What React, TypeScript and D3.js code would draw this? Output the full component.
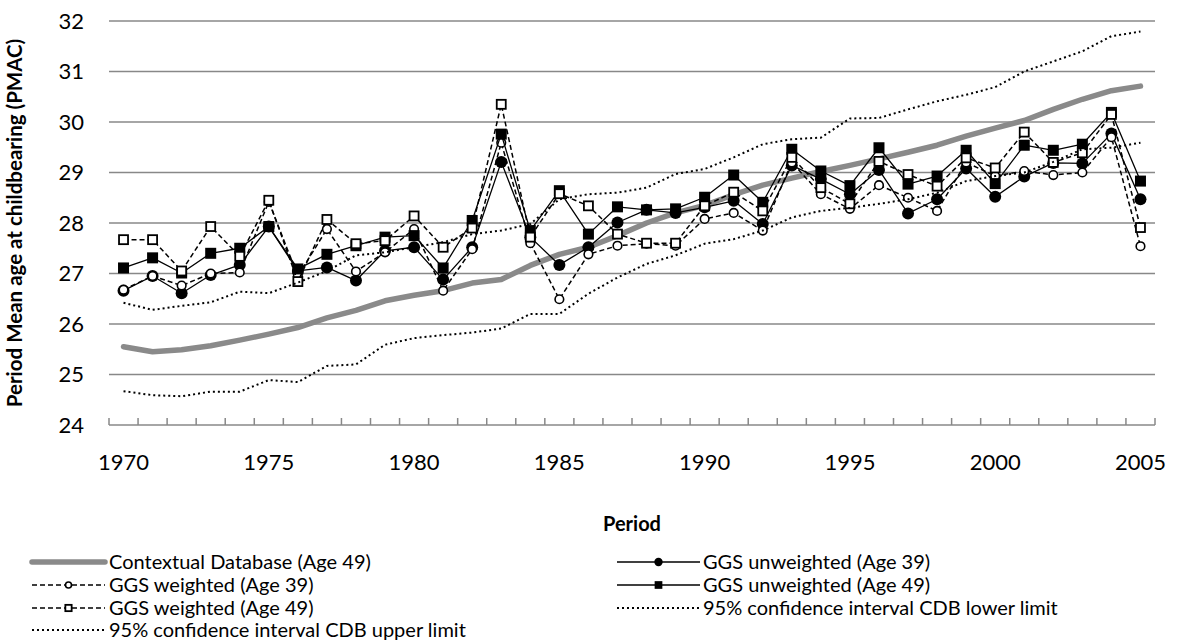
import React from 'react';
import * as d3 from 'd3';

const years = [1970,1971,1972,1973,1974,1975,1976,1977,1978,1979,1980,1981,1982,1983,1984,1985,1986,1987,1988,1989,1990,1991,1992,1993,1994,1995,1996,1997,1998,1999,2000,2001,2002,2003,2004,2005];

const cdb = [25.55,25.45,25.49,25.57,25.68,25.8,25.93,26.12,26.27,26.46,26.57,26.66,26.81,26.88,27.16,27.38,27.52,27.75,28.0,28.2,28.35,28.56,28.75,28.89,29.02,29.14,29.27,29.4,29.54,29.72,29.88,30.03,30.25,30.45,30.62,30.71];
const unw39 = [26.66,26.95,26.61,26.97,27.17,27.93,27.05,27.12,26.86,27.45,27.52,26.88,27.52,29.21,27.72,27.17,27.52,28.01,28.26,28.2,28.31,28.44,27.98,29.14,28.87,28.57,29.05,28.19,28.47,29.08,28.52,28.92,29.19,29.18,29.77,28.47];
const w39 = [26.68,26.95,26.76,27.0,27.02,28.42,26.95,27.88,27.04,27.42,27.88,26.66,27.48,29.59,27.6,26.49,27.38,27.55,27.59,27.55,28.08,28.2,27.85,29.2,28.57,28.28,28.75,28.5,28.24,29.2,28.93,29.03,28.95,29.0,29.7,27.54];
const unw49 = [27.11,27.31,27.01,27.4,27.5,27.93,27.09,27.38,27.55,27.72,27.75,27.11,28.05,29.76,27.85,28.64,27.78,28.32,28.26,28.28,28.51,28.95,28.41,29.46,29.03,28.74,29.49,28.77,28.93,29.44,28.78,29.54,29.44,29.56,30.19,28.83];
const w49 = [27.67,27.67,27.05,27.93,27.34,28.45,26.84,28.07,27.59,27.65,28.14,27.52,27.9,30.35,27.72,28.58,28.34,27.78,27.6,27.6,28.34,28.61,28.24,29.3,28.7,28.38,29.22,28.96,28.73,29.29,29.09,29.8,29.2,29.39,30.15,27.91];
const ciLower = [24.67,24.59,24.57,24.66,24.66,24.89,24.85,25.17,25.2,25.59,25.72,25.78,25.83,25.91,26.2,26.2,26.6,26.92,27.19,27.36,27.59,27.68,27.85,28.11,28.24,28.3,28.38,28.47,28.6,28.83,28.93,29.0,29.21,29.46,29.49,29.59];
const ciUpper = [26.42,26.28,26.36,26.43,26.64,26.61,26.82,27.05,27.36,27.42,27.52,27.62,27.78,27.85,27.98,28.47,28.57,28.6,28.7,28.97,29.07,29.3,29.56,29.66,29.69,30.07,30.08,30.25,30.41,30.54,30.69,31.0,31.2,31.4,31.7,31.79];

const yTicks = [24,25,26,27,28,29,30,31,32];
const xLabelYears = [1970,1975,1980,1985,1990,1995,2000,2005];

const legendLabels = [
  'Contextual Database (Age 49)',
  'GGS unweighted (Age 39)',
  'GGS weighted (Age 39)',
  'GGS unweighted (Age 49)',
  'GGS weighted (Age 49)',
  '95% confidence interval CDB lower limit',
  '95% confidence interval CDB upper limit',
];

const W = 1177, H = 643;
const FONT = "Lato, 'Open Sans', sans-serif";
const GRID = '#888888';

type Marker = 'none' | 'fcircle' | 'fsquare' | 'ocircle' | 'osquare';
interface Style { stroke: string; width: number; dash?: string; marker: Marker; cap?: string }

const styles: Style[] = [
  { stroke: '#8a8a8a', width: 5.5, marker: 'none', cap: 'round' },
  { stroke: '#000', width: 1.3, marker: 'fcircle' },
  { stroke: '#000', width: 1.5, dash: '5,3', marker: 'ocircle' },
  { stroke: '#000', width: 1.3, marker: 'fsquare' },
  { stroke: '#000', width: 1.5, dash: '5,3', marker: 'osquare' },
  { stroke: '#000', width: 2, dash: '2,3', marker: 'none' },
  { stroke: '#000', width: 2, dash: '2,3', marker: 'none' },
];

const seriesData = [cdb, unw39, w39, unw49, w49, ciLower, ciUpper];

function drawMarker(m: Marker, cx: number, cy: number, key: string, scale = 1) {
  if (m === 'fcircle') return <circle key={key} cx={cx} cy={cy} r={6 * scale} fill="#000" />;
  if (m === 'fsquare') { const s = 11 * scale; return <rect key={key} x={cx - s / 2} y={cy - s / 2} width={s} height={s} fill="#000" />; }
  if (m === 'ocircle') return <circle key={key} cx={cx} cy={cy} r={4.3 * scale} fill="#fff" stroke="#000" strokeWidth={1.6} />;
  if (m === 'osquare') { const s = 9 * scale; return <rect key={key} x={cx - s / 2} y={cy - s / 2} width={s} height={s} fill="#fff" stroke="#000" strokeWidth={1.8} />; }
  return null;
}

export default function App() {
  const x = d3.scalePoint<number>().domain(years).range([109, 1155]).padding(0.5);
  const y = d3.scaleLinear().domain([24, 32]).range([425, 21]);
  const line = d3.line<number>().x((_, i) => x(years[i]) as number).y(d => y(d));
  const step = x.step();
  const boundaries = d3.range(years.length + 1).map(i => 109 + i * step);

  const legendRows = [562, 585, 608, 630];
  const legendPos = legendLabels.map((_, i) => ({
    col: i === 6 ? 0 : i % 2,
    row: i === 6 ? 3 : Math.floor(i / 2),
  }));
  const colSample = [[32, 105], [617, 700]];
  const colText = [109, 703];

  return (
    <svg width={W} height={H} style={{ position: 'absolute', left: 0, top: 0, background: '#fff' }} fontFamily={FONT}>
      <rect width={W} height={H} fill="#fff" />
      {yTicks.filter(t => t > 24).map(t => (
        <line key={'g' + t} x1={109} x2={1155} y1={y(t)} y2={y(t)} stroke={GRID} strokeWidth={1.5} />
      ))}
      <line x1={109} x2={1155} y1={y(24)} y2={y(24)} stroke={GRID} strokeWidth={1.5} />
      {boundaries.map((b, i) => (
        <line key={'t' + i} x1={b} x2={b} y1={y(24)} y2={y(24) - 7} stroke={GRID} strokeWidth={1.5} />
      ))}
      {yTicks.map(t => (
        <text key={'yl' + t} x={84} y={y(t)} dy="0.35em" textAnchor="end" fontSize={22} fill="#000">{t}</text>
      ))}
      {xLabelYears.map(yr => (
        <text key={'xl' + yr} x={x(yr)} y={470} textAnchor="middle" fontSize={22} fill="#000">{yr}</text>
      ))}
      <text x={632} y={531} textAnchor="middle" fontSize={20} fontWeight="bold">Period</text>
      <text transform={`translate(22,${y(28)}) rotate(-90)`} textAnchor="middle" fontSize={20.5} fontWeight="bold">Period Mean age at childbearing (PMAC)</text>

      {seriesData.map((data, si) => {
        const st = styles[si];
        return (
          <g key={'s' + si}>
            <path d={line(data) || ''} fill="none" stroke={st.stroke} strokeWidth={st.width}
              strokeDasharray={st.dash} strokeLinejoin="round" strokeLinecap={(st.cap as any) || 'butt'} />
            {data.map((v, i) => drawMarker(st.marker, x(years[i]) as number, y(v), 'm' + si + '-' + i))}
          </g>
        );
      })}

      {legendLabels.map((lab, i) => {
        const { col, row } = legendPos[i];
        const st = styles[i];
        const yy = legendRows[row];
        const [x1, x2] = colSample[col];
        return (
          <g key={'lg' + i}>
            <line x1={x1} x2={x2} y1={yy} y2={yy} stroke={st.stroke} strokeWidth={st.width} strokeDasharray={st.dash} strokeLinecap={i === 0 ? 'round' : 'butt'} />
            {drawMarker(st.marker, (x1 + x2) / 2, yy, 'lm' + i, 0.7)}
            <text x={colText[col]} y={yy} dy="0.35em" fontSize={20} fill="#000">{lab}</text>
          </g>
        );
      })}
    </svg>
  );
}
